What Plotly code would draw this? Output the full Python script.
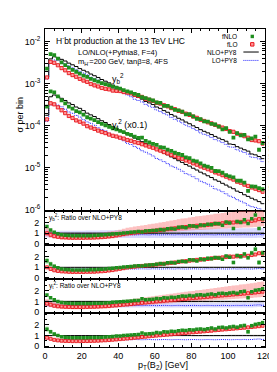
import plotly.graph_objects as go

W, H = 277, 372

# ---------------- data ----------------
pt_edges = list(range(0, 122, 2))
pt_centers = [e + 1 for e in pt_edges[:-1]]
x_tick_vals = [0, 20, 40, 60, 80, 100, 120]

# NLO+PY8 (black histogram), y_b^2 term
nlo_py8_b = [1.41e-3, 3.89e-3, 4.37e-3, 4.17e-3, 3.80e-3, 3.47e-3, 3.09e-3, 2.82e-3, 2.57e-3, 2.29e-3,
             2.09e-3, 1.91e-3, 1.70e-3, 1.55e-3, 1.41e-3, 1.26e-3, 1.15e-3, 1.05e-3, 9.3e-4, 8.5e-4,
             7.8e-4, 6.9e-4, 6.3e-4, 5.8e-4, 5.1e-4, 4.7e-4, 4.3e-4, 3.8e-4, 3.5e-4, 3.2e-4,
             2.8e-4, 2.6e-4, 2.3e-4, 2.1e-4, 1.86e-4, 1.70e-4, 1.51e-4, 1.38e-4, 1.23e-4, 1.12e-4,
             1.00e-4, 9.1e-5, 8.1e-5, 7.4e-5, 6.8e-5, 6.2e-5, 5.6e-5, 5.1e-5, 4.7e-5, 4.3e-5,
             3.7e-5, 3.6e-5, 3.2e-5, 2.95e-5, 2.7e-5, 2.5e-5, 2.14e-5, 2.04e-5, 1.86e-5, 1.66e-5]
# NLO+PY8 (black histogram), y_t^2 term (x0.1)
nlo_py8_t = [1.78e-4, 4.9e-4, 5.4e-4, 5.0e-4, 4.5e-4, 4.0e-4, 3.5e-4, 3.2e-4, 2.8e-4, 2.6e-4,
             2.3e-4, 2.0e-4, 1.82e-4, 1.66e-4, 1.48e-4, 1.32e-4, 1.20e-4, 1.07e-4, 9.5e-5, 8.7e-5,
             7.8e-5, 7.1e-5, 6.3e-5, 5.8e-5, 5.1e-5, 4.7e-5, 4.2e-5, 3.8e-5, 3.4e-5, 3.1e-5,
             2.75e-5, 2.5e-5, 2.24e-5, 2.04e-5, 1.82e-5, 1.66e-5, 1.48e-5, 1.35e-5, 1.20e-5, 1.10e-5,
             9.8e-6, 8.9e-6, 7.9e-6, 7.2e-6, 6.5e-6, 5.9e-6, 5.2e-6, 4.8e-6, 4.3e-6, 3.9e-6,
             3.5e-6, 3.2e-6, 2.8e-6, 2.6e-6, 2.3e-6, 2.1e-6, 1.9e-6, 1.74e-6, 1.58e-6, 1.41e-6]

# ratios over NLO+PY8, y_b^2
fnlo_ratio_b = [1.62, 1.30, 1.10, 0.95, 0.85, 0.80, 0.78, 0.76, 0.75, 0.76,
                0.75, 0.76, 0.77, 0.78, 0.80, 0.82, 0.85, 0.88, 0.92, 0.95,
                0.98, 1.02, 1.05, 1.08, 1.12, 1.15, 1.12, 1.20, 1.22, 1.25,
                1.28, 1.35, 1.30, 1.42, 1.45, 1.40, 1.55, 1.58, 1.52, 1.70,
                1.68, 1.60, 1.78, 1.72, 1.85, 1.80, 1.92, 1.88, 1.75, 2.05,
                1.95, 1.45, 2.10, 2.00, 2.25, 1.90, 2.35, 2.70, 1.45, 2.35]
flo_ratio_b = [1.00, 0.85, 0.72, 0.66, 0.62, 0.60, 0.58, 0.57, 0.57, 0.57,
               0.57, 0.58, 0.58, 0.59, 0.61, 0.63, 0.66, 0.70, 0.74, 0.80,
               0.86, 0.92, 0.98, 1.02, 1.06, 1.10, 1.13, 1.16, 1.19, 1.22,
               1.26, 1.30, 1.34, 1.38, 1.42, 1.46, 1.50, 1.55, 1.58, 1.62,
               1.66, 1.70, 1.72, 1.76, 1.78, 1.84, 1.88, 1.90, 1.93, 1.96,
               2.02, 2.00, 2.03, 2.06, 2.10, 2.08, 2.15, 2.20, 2.32, 2.28]
lopy8_ratio_b = [0.92, 0.86, 0.84, 0.85, 0.86, 0.85, 0.86, 0.85, 0.84, 0.85,
                 0.86, 0.85, 0.84, 0.85, 0.86, 0.85, 0.84, 0.85, 0.86, 0.85,
                 0.84, 0.85, 0.86, 0.85, 0.84, 0.85, 0.86, 0.85, 0.84, 0.86,
                 0.85, 0.84, 0.85, 0.86, 0.85, 0.84, 0.86, 0.85, 0.84, 0.85,
                 0.86, 0.85, 0.84, 0.85, 0.86, 0.85, 0.84, 0.86, 0.85, 0.84,
                 0.85, 0.86, 0.84, 0.85, 0.86, 0.85, 0.84, 0.86, 0.88, 0.85]
# scale-uncertainty bands, y_b^2
flo_band_b_lo = [0.70, 0.60, 0.50, 0.45, 0.42, 0.40, 0.39, 0.38, 0.38, 0.38,
                 0.38, 0.39, 0.39, 0.40, 0.41, 0.43, 0.45, 0.48, 0.51, 0.55,
                 0.62, 0.67, 0.72, 0.76, 0.80, 0.84, 0.87, 0.90, 0.93, 0.96,
                 0.99, 1.02, 1.05, 1.08, 1.11, 1.14, 1.17, 1.20, 1.22, 1.25,
                 1.27, 1.30, 1.31, 1.33, 1.35, 1.37, 1.40, 1.41, 1.43, 1.45,
                 1.46, 1.47, 1.49, 1.51, 1.53, 1.54, 1.56, 1.59, 1.62, 1.65]
flo_band_b_hi = [1.55, 1.35, 1.15, 1.05, 1.00, 0.97, 0.95, 0.94, 0.94, 0.94,
                 0.94, 0.95, 0.95, 0.97, 1.00, 1.04, 1.09, 1.15, 1.20, 1.25,
                 1.33, 1.42, 1.50, 1.56, 1.62, 1.68, 1.73, 1.78, 1.83, 1.88,
                 1.94, 2.00, 2.06, 2.12, 2.18, 2.24, 2.30, 2.37, 2.41, 2.47,
                 2.52, 2.58, 2.61, 2.66, 2.71, 2.76, 2.82, 2.85, 2.89, 2.93,
                 2.96, 2.99, 3.03, 3.07, 3.10, 3.10, 3.10, 3.10, 3.10, 3.10]
lopy8_band_b_lo = [0.62, 0.58, 0.56, 0.56, 0.56, 0.56, 0.56, 0.55, 0.55, 0.55,
                   0.56, 0.55, 0.55, 0.55, 0.56, 0.55, 0.55, 0.55, 0.56, 0.55,
                   0.55, 0.55, 0.56, 0.55, 0.55, 0.55, 0.56, 0.55, 0.55, 0.56,
                   0.55, 0.55, 0.55, 0.56, 0.55, 0.55, 0.56, 0.55, 0.55, 0.55,
                   0.56, 0.55, 0.55, 0.55, 0.56, 0.55, 0.55, 0.56, 0.55, 0.55,
                   0.55, 0.56, 0.55, 0.55, 0.56, 0.55, 0.55, 0.56, 0.57, 0.55]
lopy8_band_b_hi = [1.35, 1.26, 1.22, 1.22, 1.22, 1.22, 1.23, 1.23, 1.23, 1.24,
                   1.24, 1.25, 1.25, 1.26, 1.26, 1.27, 1.27, 1.28, 1.28, 1.29,
                   1.29, 1.30, 1.30, 1.31, 1.31, 1.32, 1.32, 1.33, 1.33, 1.34,
                   1.34, 1.35, 1.35, 1.36, 1.36, 1.37, 1.37, 1.38, 1.38, 1.39,
                   1.39, 1.40, 1.40, 1.41, 1.41, 1.42, 1.42, 1.43, 1.43, 1.44,
                   1.44, 1.45, 1.45, 1.46, 1.46, 1.47, 1.47, 1.48, 1.49, 1.48]
nlopy8_band_b_lo = [0.86, 0.90, 0.91, 0.91, 0.91, 0.91, 0.91, 0.91, 0.91, 0.91,
                    0.91, 0.91, 0.91, 0.91, 0.91, 0.91, 0.91, 0.91, 0.91, 0.91,
                    0.90, 0.90, 0.90, 0.90, 0.90, 0.90, 0.90, 0.90, 0.90, 0.90,
                    0.90, 0.90, 0.90, 0.90, 0.90, 0.90, 0.90, 0.90, 0.90, 0.90,
                    0.89, 0.89, 0.89, 0.89, 0.89, 0.89, 0.89, 0.89, 0.89, 0.89,
                    0.89, 0.89, 0.89, 0.89, 0.89, 0.89, 0.89, 0.89, 0.89, 0.89]
nlopy8_band_b_hi = [1.12, 1.09, 1.08, 1.08, 1.08, 1.08, 1.08, 1.08, 1.08, 1.08,
                    1.08, 1.08, 1.08, 1.08, 1.08, 1.08, 1.08, 1.08, 1.08, 1.08,
                    1.09, 1.09, 1.09, 1.09, 1.09, 1.09, 1.09, 1.09, 1.09, 1.09,
                    1.09, 1.09, 1.09, 1.09, 1.09, 1.09, 1.09, 1.09, 1.09, 1.09,
                    1.10, 1.10, 1.10, 1.10, 1.10, 1.10, 1.10, 1.10, 1.10, 1.10,
                    1.10, 1.10, 1.10, 1.10, 1.10, 1.10, 1.10, 1.10, 1.10, 1.10]
# statistical uncertainties (ratio units), y_b^2
fnlo_stat_b = [0.28, 0.22, 0.16, 0.12, 0.10, 0.08, 0.07, 0.06, 0.06, 0.06,
               0.05, 0.05, 0.05, 0.05, 0.05, 0.05, 0.05, 0.05, 0.05, 0.05,
               0.06, 0.06, 0.06, 0.06, 0.07, 0.07, 0.07, 0.08, 0.08, 0.08,
               0.09, 0.09, 0.09, 0.10, 0.10, 0.10, 0.11, 0.11, 0.11, 0.12,
               0.12, 0.12, 0.13, 0.13, 0.14, 0.14, 0.15, 0.15, 0.15, 0.16,
               0.16, 0.17, 0.17, 0.18, 0.19, 0.19, 0.20, 0.22, 0.23, 0.25]
flo_stat_b = [0.03, 0.02, 0.02, 0.02, 0.02, 0.02, 0.02, 0.02, 0.02, 0.02,
              0.02, 0.02, 0.02, 0.02, 0.02, 0.02, 0.02, 0.02, 0.02, 0.02,
              0.02, 0.02, 0.02, 0.02, 0.03, 0.03, 0.03, 0.03, 0.03, 0.03,
              0.03, 0.03, 0.03, 0.03, 0.04, 0.04, 0.04, 0.04, 0.04, 0.04,
              0.04, 0.04, 0.05, 0.05, 0.05, 0.05, 0.05, 0.05, 0.05, 0.06,
              0.06, 0.06, 0.06, 0.06, 0.07, 0.07, 0.07, 0.07, 0.08, 0.08]
nlo_stat_b = [0.06, 0.03, 0.03, 0.03, 0.03, 0.03, 0.03, 0.03, 0.03, 0.03,
              0.03, 0.03, 0.03, 0.03, 0.03, 0.03, 0.03, 0.03, 0.03, 0.03,
              0.04, 0.04, 0.04, 0.04, 0.04, 0.04, 0.04, 0.04, 0.04, 0.04,
              0.05, 0.05, 0.05, 0.05, 0.05, 0.05, 0.05, 0.05, 0.05, 0.05,
              0.06, 0.06, 0.06, 0.06, 0.06, 0.06, 0.06, 0.06, 0.06, 0.06,
              0.07, 0.07, 0.07, 0.07, 0.07, 0.07, 0.08, 0.08, 0.08, 0.08]

# ratios over NLO+PY8, y_t^2
fnlo_ratio_t = [1.60, 1.35, 1.15, 1.00, 0.90, 0.85, 0.82, 0.80, 0.80, 0.80,
                0.80, 0.80, 0.81, 0.82, 0.83, 0.84, 0.86, 0.88, 0.92, 0.95,
                0.97, 1.00, 1.02, 1.05, 1.08, 1.10, 1.25, 1.15, 1.18, 1.20,
                1.28, 1.25, 1.35, 1.33, 1.40, 1.38, 1.45, 1.50, 1.48, 1.55,
                1.52, 1.60, 1.62, 1.58, 1.65, 1.70, 1.62, 1.75, 1.78, 1.72,
                1.80, 1.85, 1.78, 1.90, 1.95, 1.35, 1.92, 2.05, 2.10, 2.20]
flo_ratio_t = [0.80, 0.70, 0.60, 0.55, 0.52, 0.50, 0.49, 0.48, 0.48, 0.48,
               0.49, 0.49, 0.50, 0.51, 0.52, 0.54, 0.56, 0.58, 0.61, 0.64,
               0.67, 0.70, 0.73, 0.76, 0.80, 0.83, 0.87, 0.90, 0.94, 0.97,
               1.00, 1.03, 1.06, 1.09, 1.12, 1.15, 1.18, 1.22, 1.25, 1.28,
               1.31, 1.34, 1.37, 1.40, 1.43, 1.46, 1.50, 1.53, 1.56, 1.59,
               1.62, 1.65, 1.68, 1.71, 1.74, 1.77, 1.80, 1.84, 1.88, 1.92]
lopy8_ratio_t = [0.72, 0.64, 0.62, 0.62, 0.63, 0.62, 0.61, 0.62, 0.63, 0.62,
                 0.61, 0.62, 0.63, 0.62, 0.61, 0.62, 0.63, 0.62, 0.61, 0.62,
                 0.63, 0.62, 0.61, 0.62, 0.63, 0.62, 0.61, 0.62, 0.63, 0.62,
                 0.61, 0.62, 0.63, 0.62, 0.61, 0.62, 0.63, 0.62, 0.61, 0.62,
                 0.63, 0.62, 0.61, 0.62, 0.63, 0.62, 0.61, 0.62, 0.63, 0.62,
                 0.61, 0.62, 0.63, 0.62, 0.64, 0.62, 0.63, 0.66, 0.68, 0.64]
flo_band_t_lo = [0.55, 0.48, 0.40, 0.35, 0.32, 0.30, 0.29, 0.28, 0.28, 0.28,
                 0.28, 0.29, 0.29, 0.30, 0.31, 0.33, 0.35, 0.37, 0.40, 0.42,
                 0.45, 0.48, 0.50, 0.53, 0.56, 0.59, 0.62, 0.65, 0.68, 0.70,
                 0.73, 0.76, 0.78, 0.81, 0.84, 0.86, 0.89, 0.92, 0.94, 0.97,
                 0.99, 1.01, 1.04, 1.06, 1.08, 1.10, 1.13, 1.15, 1.17, 1.19,
                 1.21, 1.23, 1.25, 1.27, 1.29, 1.31, 1.33, 1.36, 1.39, 1.42]
flo_band_t_hi = [1.20, 1.05, 0.92, 0.85, 0.80, 0.78, 0.77, 0.76, 0.76, 0.76,
                 0.77, 0.78, 0.79, 0.81, 0.83, 0.86, 0.89, 0.93, 0.97, 1.02,
                 1.07, 1.11, 1.16, 1.20, 1.25, 1.30, 1.35, 1.40, 1.45, 1.49,
                 1.54, 1.58, 1.63, 1.67, 1.72, 1.76, 1.81, 1.86, 1.90, 1.95,
                 1.99, 2.04, 2.08, 2.12, 2.17, 2.21, 2.26, 2.31, 2.35, 2.40,
                 2.44, 2.49, 2.53, 2.58, 2.62, 2.66, 2.71, 2.76, 2.82, 2.87]
lopy8_band_t_lo = [0.50, 0.45, 0.43, 0.43, 0.44, 0.43, 0.43, 0.43, 0.44, 0.43,
                   0.43, 0.43, 0.44, 0.43, 0.43, 0.43, 0.44, 0.43, 0.43, 0.43,
                   0.44, 0.43, 0.43, 0.43, 0.44, 0.43, 0.43, 0.43, 0.44, 0.43,
                   0.43, 0.43, 0.44, 0.43, 0.43, 0.43, 0.44, 0.43, 0.43, 0.43,
                   0.44, 0.43, 0.43, 0.43, 0.44, 0.43, 0.43, 0.43, 0.44, 0.43,
                   0.43, 0.43, 0.44, 0.43, 0.44, 0.43, 0.44, 0.46, 0.47, 0.45]
lopy8_band_t_hi = [1.00, 0.90, 0.87, 0.87, 0.88, 0.87, 0.86, 0.87, 0.88, 0.87,
                   0.86, 0.87, 0.88, 0.87, 0.86, 0.87, 0.88, 0.87, 0.86, 0.87,
                   0.88, 0.87, 0.86, 0.87, 0.88, 0.87, 0.86, 0.87, 0.88, 0.87,
                   0.86, 0.87, 0.88, 0.87, 0.86, 0.87, 0.88, 0.87, 0.86, 0.87,
                   0.88, 0.87, 0.86, 0.87, 0.88, 0.87, 0.86, 0.87, 0.88, 0.87,
                   0.86, 0.87, 0.88, 0.87, 0.90, 0.87, 0.88, 0.93, 0.96, 0.90]
nlopy8_band_t_lo = nlopy8_band_b_lo[:]
nlopy8_band_t_hi = nlopy8_band_b_hi[:]
fnlo_stat_t = [0.25, 0.20, 0.14, 0.11, 0.09, 0.07, 0.06, 0.06, 0.05, 0.05,
               0.05, 0.05, 0.05, 0.05, 0.05, 0.05, 0.05, 0.05, 0.05, 0.05,
               0.05, 0.06, 0.06, 0.06, 0.06, 0.07, 0.07, 0.07, 0.08, 0.08,
               0.08, 0.09, 0.09, 0.09, 0.10, 0.10, 0.10, 0.11, 0.11, 0.11,
               0.12, 0.12, 0.12, 0.13, 0.13, 0.13, 0.14, 0.14, 0.15, 0.15,
               0.15, 0.16, 0.16, 0.17, 0.17, 0.18, 0.18, 0.19, 0.20, 0.21]
flo_stat_t = flo_stat_b[:]
nlo_stat_t = nlo_stat_b[:]

for arr in [nlo_py8_b, nlo_py8_t, fnlo_ratio_b, flo_ratio_b, lopy8_ratio_b, flo_band_b_lo,
            flo_band_b_hi, lopy8_band_b_lo, lopy8_band_b_hi, nlopy8_band_b_lo, nlopy8_band_b_hi,
            fnlo_stat_b, flo_stat_b, nlo_stat_b, fnlo_ratio_t, flo_ratio_t, lopy8_ratio_t,
            flo_band_t_lo, flo_band_t_hi, lopy8_band_t_lo, lopy8_band_t_hi, fnlo_stat_t]:
    assert len(arr) == 60, len(arr)

# ---------------- styles ----------------
FONT = "Liberation Sans, Arial, Helvetica, sans-serif"
GREEN = "#1f8f1f"
RED_LINE = "#e8141b"
RED_FILL = "#ff9a9a"
BLUE = "#2424ff"
PINK_BAND = "rgba(250,105,105,0.42)"
BLUE_BAND = "rgba(130,130,255,0.30)"
GRAY_BAND = "rgba(110,110,110,0.38)"
GREEN_BOX = "rgba(110,205,110,0.50)"
PINK_BOX = "rgba(250,120,120,0.50)"
DOT = "1px,1px"
MS_MAIN = 3.2
MS_RATIO = 3.0


def px(x):
    return x / W


def py(y):
    return 1 - y / H


def step_y(vals):
    return list(vals) + [vals[-1]]


fig = go.Figure()

# ---------------- main panel ----------------
main = dict(xaxis="x", yaxis="y")
for nlo, lo_r, f_r, fl_r in [(nlo_py8_b, lopy8_ratio_b, fnlo_ratio_b, flo_ratio_b),
                             (nlo_py8_t, lopy8_ratio_t, fnlo_ratio_t, flo_ratio_t)]:
    lo_vals = [a * b for a, b in zip(nlo, lo_r)]
    fnlo_vals = [a * b for a, b in zip(nlo, f_r)]
    flo_vals = [a * b for a, b in zip(nlo, fl_r)]
    fig.add_trace(go.Scatter(x=pt_edges, y=step_y(lo_vals), mode="lines", line_shape="hv",
                             line=dict(color=BLUE, width=1, dash=DOT), **main))
    fig.add_trace(go.Scatter(x=pt_edges, y=step_y(nlo), mode="lines", line_shape="hv",
                             line=dict(color="black", width=1), **main))
    fig.add_trace(go.Scatter(x=pt_centers, y=flo_vals, mode="markers",
                             marker=dict(symbol="square", size=MS_MAIN, color=RED_FILL,
                                         line=dict(color=RED_LINE, width=0.9)), **main))
    fig.add_trace(go.Scatter(x=pt_centers, y=fnlo_vals, mode="markers",
                             marker=dict(symbol="square", size=MS_MAIN + 0.6, color=GREEN,
                                         line=dict(width=0)), **main))


# ---------------- ratio panels ----------------
def band(lo, hi, color, ax, width=2.0):
    fig.add_trace(go.Bar(x=pt_centers, y=[h - l for l, h in zip(lo, hi)], base=lo, width=width,
                         marker=dict(color=color, line=dict(width=0)), **ax))


def ratio_points(nlo, f_r, fl_r, lo_r, ax):
    ones = [v / v for v in nlo]
    fig.add_trace(go.Scatter(x=pt_edges, y=step_y(ones), mode="lines", line_shape="hv",
                             line=dict(color="black", width=1), **ax))
    fig.add_trace(go.Scatter(x=pt_edges, y=step_y(lo_r), mode="lines", line_shape="hv",
                             line=dict(color=BLUE, width=1, dash=DOT), **ax))
    fig.add_trace(go.Scatter(x=pt_centers, y=fl_r, mode="markers",
                             marker=dict(symbol="square", size=MS_RATIO, color=RED_FILL,
                                         line=dict(color=RED_LINE, width=0.9)), **ax))
    fig.add_trace(go.Scatter(x=pt_centers, y=f_r, mode="markers",
                             marker=dict(symbol="square", size=MS_RATIO + 0.5, color=GREEN,
                                         line=dict(width=0)), **ax))


sets = [
    (nlo_py8_b, fnlo_ratio_b, flo_ratio_b, lopy8_ratio_b, flo_band_b_lo, flo_band_b_hi,
     lopy8_band_b_lo, lopy8_band_b_hi, nlopy8_band_b_lo, nlopy8_band_b_hi,
     fnlo_stat_b, flo_stat_b, nlo_stat_b, 2),
    (nlo_py8_t, fnlo_ratio_t, flo_ratio_t, lopy8_ratio_t, flo_band_t_lo, flo_band_t_hi,
     lopy8_band_t_lo, lopy8_band_t_hi, nlopy8_band_t_lo, nlopy8_band_t_hi,
     fnlo_stat_t, flo_stat_t, nlo_stat_t, 4),
]
for (nlo, f_r, fl_r, lo_r, fb_lo, fb_hi, lb_lo, lb_hi, nb_lo, nb_hi,
     f_st, fl_st, n_st, k) in sets:
    ax_scale = dict(xaxis=f"x{k}", yaxis=f"y{k}")
    ax_stat = dict(xaxis=f"x{k+1}", yaxis=f"y{k+1}")
    # scale-uncertainty panel
    band(lb_lo, lb_hi, BLUE_BAND, ax_scale)
    band(fb_lo, fb_hi, PINK_BAND, ax_scale)
    band(nb_lo, nb_hi, GRAY_BAND, ax_scale)
    ratio_points(nlo, f_r, fl_r, lo_r, ax_scale)
    # statistical-uncertainty panel
    ones = [v / v for v in nlo]
    band([o - e for o, e in zip(ones, n_st)], [o + e for o, e in zip(ones, n_st)], GRAY_BAND, ax_stat)
    band([r - e for r, e in zip(f_r, f_st)], [r + e for r, e in zip(f_r, f_st)], GREEN_BOX, ax_stat, 1.7)
    band([r - e for r, e in zip(fl_r, fl_st)], [r + e for r, e in zip(fl_r, fl_st)], PINK_BOX, ax_stat, 1.7)
    ratio_points(nlo, f_r, fl_r, lo_r, ax_stat)

# ---------------- axes ----------------
X0, X1 = px(35.5), px(264)
panel_px = [(21.7, 205.0), (205.0, 239.5), (239.5, 274.0), (274.0, 308.5), (308.5, 343.0)]
tickfont = dict(family=FONT, size=9, color="black")

layout = dict(
    width=W, height=H, margin=dict(l=0, r=0, t=0, b=0),
    paper_bgcolor="white", plot_bgcolor="white", showlegend=False,
    barmode="overlay", font=dict(family=FONT, color="black"),
)
for i, (top, bot) in enumerate(panel_px):
    k = "" if i == 0 else str(i + 1)
    last = i == len(panel_px) - 1
    layout[f"xaxis{k}"] = dict(
        domain=[X0, X1], range=[0, 120], anchor=f"y{k}",
        showline=True, linecolor="black", linewidth=1, mirror="ticks",
        ticks="inside", ticklen=4, tickcolor="black", tickwidth=0.8,
        tickvals=x_tick_vals, showticklabels=last, tickfont=tickfont,
        minor=dict(ticks="inside", ticklen=2, dtick=5, tickcolor="black", tickwidth=0.6),
        showgrid=False, zeroline=False, fixedrange=True,
    )
    if i == 0:
        majors = [1e-6, 1e-5, 1e-4, 1e-3, 1e-2]
        minors = [m * 10.0 ** e for e in range(-7, -1) for m in range(2, 10)]
        layout["yaxis"] = dict(
            domain=[py(bot), py(top)], type="log", range=[-6.02, -1.71], anchor="x",
            showline=True, linecolor="black", linewidth=1, mirror="ticks",
            ticks="inside", ticklen=5, tickcolor="black", tickwidth=0.8,
            tickvals=majors, ticktext=["10<sup>-6</sup>", "10<sup>-5</sup>", "10<sup>-4</sup>",
                                       "10<sup>-3</sup>", "10<sup>-2</sup>"],
            tickfont=tickfont, ticklabelstandoff=2,
            minor=dict(ticks="inside", ticklen=2.5, tickvals=minors, tickcolor="black", tickwidth=0.6),
            showgrid=False, zeroline=False, fixedrange=True,
        )
    else:
        layout[f"yaxis{k}"] = dict(
            domain=[py(bot), py(top)], range=[-0.1, 3.1], anchor=f"x{k}",
            showline=True, linecolor="black", linewidth=1, mirror="ticks",
            ticks="inside", ticklen=4, tickcolor="black", tickwidth=0.8,
            tickvals=[0, 1, 2], tickfont=tickfont, ticklabelstandoff=3,
            minor=dict(ticks="inside", ticklen=2, dtick=0.5, tickcolor="black", tickwidth=0.6),
            showgrid=False, zeroline=False, fixedrange=True,
        )

# ---------------- text ----------------
ann = []


def text(x, y, s, size, xanchor="left", angle=0, color="black"):
    ann.append(dict(x=px(x), y=py(y), xref="paper", yref="paper", text=s, showarrow=False,
                    xanchor=xanchor, yanchor="middle", textangle=angle,
                    font=dict(family=FONT, size=size, color=color)))


text(45, 33, "H<sup>-</sup>bt production at the 13 TeV LHC", 8.5)
text(68, 45, "LO/NLO(+Pythia8, F=4)", 7.5)
text(68, 54.5, "m<sub>H<sup>-</sup></sub>=200 GeV, tanβ=8, 4FS", 7.5)
text(103, 71, "y<sub>b</sub><sup>2</sup>", 9)
text(103, 118, "y<sub>t</sub><sup>2</sup> (x0.1)", 9)
text(38, 211.5, "y<sub>b</sub><sup>2</sup>: Ratio over NLO+PY8", 6.5)
text(38, 280.5, "y<sub>t</sub><sup>2</sup>: Ratio over NLO+PY8", 6.5)
text(9, 108, "σ per bin", 9, xanchor="center", angle=-90)
text(158, 361, "p<sub>T</sub>(B<sub>2</sub>) [GeV]", 9, xanchor="center")
text(270.5, 162, "MadGraph5_aMC@NLO", 6, xanchor="center", angle=-90, color="#333333")

# legend (text right-aligned, symbol to the right)
leg_rows = [(28.5, "fNLO"), (36.5, "fLO"), (44.5, "NLO+PY8"), (53, "LO+PY8")]
for y, s in leg_rows:
    text(237.5, y, s, 6.5, xanchor="right")

shapes = [
    dict(type="rect", xref="paper", yref="paper", x0=px(249.5), x1=px(253), y0=py(30.5), y1=py(27),
         fillcolor=GREEN, line=dict(width=0)),
    dict(type="rect", xref="paper", yref="paper", x0=px(249.5), x1=px(253), y0=py(38.5), y1=py(35),
         fillcolor=RED_FILL, line=dict(color=RED_LINE, width=1)),
    dict(type="line", xref="paper", yref="paper", x0=px(242), x1=px(258), y0=py(44.5), y1=py(44.5),
         line=dict(color="black", width=1)),
    dict(type="line", xref="paper", yref="paper", x0=px(242), x1=px(258), y0=py(53), y1=py(53),
         line=dict(color=BLUE, width=1, dash=DOT)),
]

layout["annotations"] = ann
layout["shapes"] = shapes
fig.update_layout(**layout)
fig.write_html("out.html")
